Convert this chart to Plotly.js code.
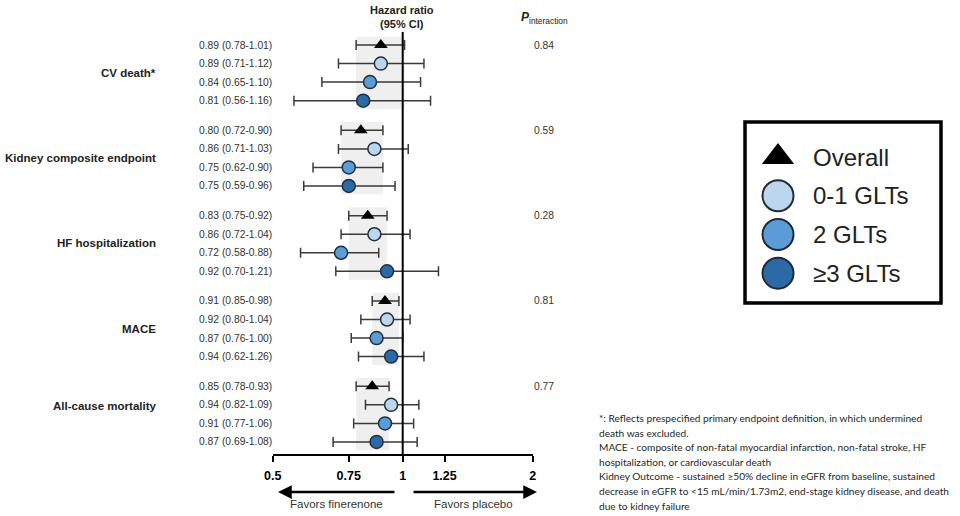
<!DOCTYPE html>
<html><head><meta charset="utf-8">
<script src="https://cdn.plot.ly/plotly-3.0.1.min.js"></script>
<style>html,body{margin:0;padding:0;background:#fff}#chart{width:960px;height:516px}</style>
</head><body><div id="chart"></div>
<script>
// ---- data ----
const groups = ['CV death*', 'Kidney composite endpoint', 'HF hospitalization', 'MACE', 'All-cause mortality'];
const seriesNames = ['Overall', '0-1 GLTs', '2 GLTs', '\u22653 GLTs'];

const hrOverall = [0.89, 0.80, 0.83, 0.91, 0.85];
const loOverall = [0.78, 0.72, 0.75, 0.85, 0.78];
const hiOverall = [1.01, 0.90, 0.92, 0.98, 0.93];

const hr01 = [0.89, 0.86, 0.86, 0.92, 0.94];
const lo01 = [0.71, 0.71, 0.72, 0.80, 0.82];
const hi01 = [1.12, 1.03, 1.04, 1.04, 1.09];

const hr2 = [0.84, 0.75, 0.72, 0.87, 0.91];
const lo2 = [0.65, 0.62, 0.58, 0.76, 0.77];
const hi2 = [1.10, 0.90, 0.88, 1.00, 1.06];

const hr3 = [0.81, 0.75, 0.92, 0.94, 0.87];
const lo3 = [0.56, 0.59, 0.70, 0.79, 0.69];   // MACE whisker as drawn in the picture
const hi3 = [1.16, 0.96, 1.21, 1.12, 1.08];

const ciTextOverall = ['0.89 (0.78-1.01)', '0.80 (0.72-0.90)', '0.83 (0.75-0.92)', '0.91 (0.85-0.98)', '0.85 (0.78-0.93)'];
const ciText01      = ['0.89 (0.71-1.12)', '0.86 (0.71-1.03)', '0.86 (0.72-1.04)', '0.92 (0.80-1.04)', '0.94 (0.82-1.09)'];
const ciText2       = ['0.84 (0.65-1.10)', '0.75 (0.62-0.90)', '0.72 (0.58-0.88)', '0.87 (0.76-1.00)', '0.91 (0.77-1.06)'];
const ciText3       = ['0.81 (0.56-1.16)', '0.75 (0.59-0.96)', '0.92 (0.70-1.21)', '0.94 (0.62-1.26)', '0.87 (0.69-1.08)'];

const pInteraction = ['0.84', '0.59', '0.28', '0.81', '0.77'];

const tickVals = [0.5, 0.75, 1, 1.25, 2];
const tickText = ['0.5', '0.75', '1', '1.25', '2'];

const footLines = [
  '*: Reflects prespecified primary endpoint definition, in which undermined',
  'death was excluded.',
  'MACE - composite of non-fatal myocardial infarction, non-fatal stroke, HF',
  'hospitalization, or cardiovascular death',
  'Kidney Outcome - sustained \u226550% decline in eGFR from baseline, sustained',
  'decrease in eGFR to <15 mL/min/1.73m2, end-stage kidney disease, and death',
  'due to kidney failure'
];

// ---- layout helpers ----
const W = 960, H = 516;
const px = x => x / W, py = y => 1 - y / H;
const GROUP_STEP = 4.6;
const rowY = (g, r) => g * GROUP_STEP + r;
const FONT = '"Liberation Sans", Arial, Helvetica, sans-serif';

const series = [
  {hr: hrOverall, lo: loOverall, hi: hiOverall, txt: ciTextOverall, symbol: 'triangle-up', color: '#000000', size: 12, lw: 0},
  {hr: hr01, lo: lo01, hi: hi01, txt: ciText01, symbol: 'circle', color: '#bcd6ee', size: 13, lw: 1.5},
  {hr: hr2, lo: lo2, hi: hi2, txt: ciText2, symbol: 'circle', color: '#5b9bd6', size: 13, lw: 1.5},
  {hr: hr3, lo: lo3, hi: hi3, txt: ciText3, symbol: 'circle', color: '#2c69a6', size: 13, lw: 1.5}
];

const traces = series.map((s, si) => ({
  type: 'scatter', mode: 'markers', name: seriesNames[si],
  x: s.hr, y: groups.map((_, g) => rowY(g, si)),
  error_x: {type: 'data', symmetric: false,
    array: s.hi.map((h, i) => h - s.hr[i]),
    arrayminus: s.lo.map((l, i) => s.hr[i] - l),
    color: '#3a3a3a', thickness: 1.5, width: 5},
  marker: {symbol: s.symbol, size: s.size, color: s.color, opacity: 1, line: {color: '#22303f', width: s.lw}},
  xaxis: 'x', yaxis: 'y', showlegend: false, hoverinfo: 'skip'
}));

// legend drawn on its own hidden axes
traces.push({
  type: 'scatter', mode: 'markers',
  x: seriesNames.map(() => 33), y: seriesNames.map((_, i) => i),
  marker: {symbol: series.map(s => s.symbol), size: [28, 31, 31, 31], opacity: 1,
    color: series.map(s => s.color), line: {color: '#1f2a36', width: [0, 2, 2, 2]}},
  xaxis: 'x2', yaxis: 'y2', showlegend: false, hoverinfo: 'skip'
});

const shapes = [];
groups.forEach((_, g) => {
  shapes.push({type: 'rect', xref: 'x', yref: 'y', x0: loOverall[g], x1: hiOverall[g],
    y0: rowY(g, -0.45), y1: rowY(g, 3.45), fillcolor: '#efefef', line: {width: 0}, layer: 'below'});
});
shapes.push({type: 'line', xref: 'x', yref: 'paper', x0: 1, x1: 1, y0: py(455), y1: py(32),
  line: {color: '#000', width: 2}});
shapes.push({type: 'rect', xref: 'paper', yref: 'paper', x0: px(745), x1: px(941), y0: py(303), y1: py(122),
  line: {color: '#000', width: 3.5}, fillcolor: 'rgba(0,0,0,0)'});

const annotations = [];
const baseFont = {family: FONT, color: '#333'};
// CI labels
series.forEach((s, si) => {
  groups.forEach((_, g) => {
    annotations.push({xref: 'paper', yref: 'y', x: px(197), y: rowY(g, si), text: s.txt[g],
      showarrow: false, xanchor: 'left', yanchor: 'middle', font: {...baseFont, size: 10.3}});
  });
});
// group labels
groups.forEach((name, g) => {
  annotations.push({xref: 'paper', yref: 'y', x: px(158), y: rowY(g, g === 4 ? 1.05 : 1.5),
    text: '<b>' + name + '</b>', showarrow: false, xanchor: 'right', yanchor: 'middle',
    font: {family: FONT, color: '#222', size: 11.5}});
  annotations.push({xref: 'paper', yref: 'y', x: px(544), y: rowY(g, 0), text: pInteraction[g],
    showarrow: false, xanchor: 'center', yanchor: 'middle', font: {...baseFont, size: 10.3}});
});
// headers
annotations.push({xref: 'paper', yref: 'paper', x: px(402), y: py(17), text: '<b>Hazard ratio<br>(95% CI)</b>',
  showarrow: false, xanchor: 'center', yanchor: 'middle', font: {family: FONT, color: '#222', size: 11}});
annotations.push({xref: 'paper', yref: 'paper', x: px(544), y: py(18), text: '<b><i>P</i></b><sub>interaction</sub>',
  showarrow: false, xanchor: 'center', yanchor: 'middle', font: {family: FONT, color: '#222', size: 12}});
// arrows
annotations.push({xref: 'paper', yref: 'paper', x: px(278), y: py(492), ax: 118, ay: 0, axref: 'pixel', ayref: 'pixel',
  text: '', showarrow: true, arrowhead: 2, arrowsize: 1.1, arrowwidth: 2.5, arrowcolor: '#000'});
annotations.push({xref: 'paper', yref: 'paper', x: px(537), y: py(492), ax: -125, ay: 0, axref: 'pixel', ayref: 'pixel',
  text: '', showarrow: true, arrowhead: 2, arrowsize: 1.1, arrowwidth: 2.5, arrowcolor: '#000'});
annotations.push({xref: 'paper', yref: 'paper', x: px(336), y: py(504), text: 'Favors finerenone',
  showarrow: false, xanchor: 'center', yanchor: 'middle', font: {...baseFont, size: 11.5}});
annotations.push({xref: 'paper', yref: 'paper', x: px(473), y: py(504), text: 'Favors placebo',
  showarrow: false, xanchor: 'center', yanchor: 'middle', font: {...baseFont, size: 11.5}});
// legend labels
seriesNames.forEach((n, i) => {
  annotations.push({xref: 'paper', yref: 'y2', x: px(811), y: i, text: n, showarrow: false,
    xanchor: 'left', yanchor: 'middle', font: {family: FONT, color: '#222', size: 24}});
});
// footnote
footLines.forEach((t, i) => {
  annotations.push({xref: 'paper', yref: 'paper', x: px(597), y: py(418 + i * 14.6), text: t.replace(/</g, '&lt;'),
    showarrow: false, xanchor: 'left', yanchor: 'middle', font: {family: 'Lato, "Open Sans", sans-serif', color: '#262626', size: 10.15}});
});

const layout = {
  width: W, height: H, margin: {l: 0, r: 0, t: 0, b: 0},
  paper_bgcolor: '#fff', plot_bgcolor: 'rgba(0,0,0,0)', showlegend: false,
  xaxis: {type: 'log', domain: [px(272.7), px(532.7)], range: [Math.log10(0.5), Math.log10(2)],
    tickvals: tickVals, ticktext: tickText, showline: true, linecolor: '#000', linewidth: 2,
    ticks: 'outside', ticklen: 6, tickwidth: 2, tickcolor: '#000', ticklabelstandoff: 3,
    tickfont: {family: FONT, size: 12.5, color: '#000', weight: 'bold'},
    showgrid: false, zeroline: false, anchor: 'y', fixedrange: true},
  yaxis: {domain: [py(454), py(30)], range: [22.05, -0.81], visible: false, showgrid: false,
    zeroline: false, anchor: 'x', fixedrange: true},
  xaxis2: {domain: [px(745), px(941)], range: [0, 196], visible: false, anchor: 'y2', fixedrange: true},
  yaxis2: {domain: [py(303), py(122)], range: [3.77, -0.904], visible: false, anchor: 'x2', fixedrange: true},
  shapes: shapes, annotations: annotations,
  font: {family: FONT}
};

Plotly.newPlot('chart', traces, layout, {displayModeBar: false, staticPlot: true});
</script>
</body></html>
